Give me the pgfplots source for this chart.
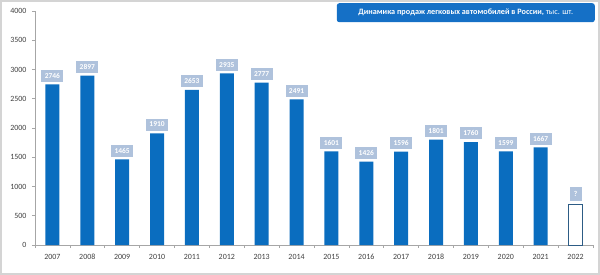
\documentclass[border=0pt]{standalone}
\usepackage{pgfplots}
\pgfplotsset{compat=1.18}
\usepackage{pgfplotstable}
\usepackage{fontspec}
\setmainfont{Carlito}
\definecolor{barblue}{HTML}{0A6DBF}
\definecolor{titleblue}{HTML}{1570C6}
\definecolor{lblbox}{HTML}{AFC2DC}
\definecolor{axisgray}{HTML}{A6A6A6}
\definecolor{ticktext}{HTML}{404040}
\definecolor{framegray}{HTML}{D4D4D4}
\definecolor{hollowedge}{HTML}{2D5C85}
\pgfplotstableread{
x val lbl
0 2746 2746
1 2897 2897
2 1465 1465
3 1910 1910
4 2653 2653
5 2935 2935
6 2777 2777
7 2491 2491
8 1601 1601
9 1426 1426
10 1596 1596
11 1801 1801
12 1760 1760
13 1599 1599
14 1667 1667
}\sales
\pgfplotstableread{
x val lbl
15 700 ?
}\future
\begin{document}
\begin{tikzpicture}[x=1bp,y=1bp]
\begin{axis}[
  name=ax,
  scale only axis,
  width=558bp, height=234bp,
  xmin=-0.5, xmax=15.5,
  ymin=0, ymax=4000,
  ytick={0,500,...,4000},
  xtick={0,...,15},
  xticklabels={2007,2008,2009,2010,2011,2012,2013,2014,2015,2016,2017,2018,2019,2020,2021,2022},
  minor xtick={-0.5,0.5,...,15.5},
  axis x line*=bottom,
  axis y line*=left,
  axis line style={axisgray, line width=0.6pt},
  major x tick style={draw=none},
  minor x tick style={axisgray, line width=0.6pt},
  major y tick style={axisgray, line width=0.6pt},
  tick align=outside,
  major tick length=3bp,
  minor tick length=3bp,
  tick label style={font=\fontsize{8}{9}\selectfont, text=ticktext},
  /pgf/number format/assume math mode=true,
  /pgf/number format/set thousands separator={},
  yticklabel style={xshift=-2bp},
  xticklabel style={yshift=-3bp},
  ybar, bar width=14bp, bar shift=0pt,
  clip=false,
  nodes near coords,
  point meta=explicit symbolic,
  every node near coord/.append style={font=\bfseries\fontsize{7.5}{8}\selectfont, text=white, fill=lblbox, inner sep=1.5bp, minimum width=22bp, minimum height=12bp, anchor=south, yshift=2.5bp},
]
\addplot[fill=barblue, draw=none] table[x=x, y=val, meta=lbl] {\sales};
\addplot[fill=white, draw=hollowedge, line width=0.8pt, every node near coord/.append style={minimum width=12bp, minimum height=14bp}] table[x=x, y=val, meta=lbl] {\future};
\end{axis}
\path[use as bounding box] ([shift={(-35bp,-30bp)}]ax.south west) rectangle ([shift={(565bp,245bp)}]ax.south west);
\draw[framegray, line width=2.5bp] ([shift={(-33.75bp,-28.75bp)}]ax.south west) rectangle ([shift={(563.75bp,243.75bp)}]ax.south west);
\node[fill=titleblue, rounded corners=2.5bp, text=white, anchor=north east, minimum width=258bp, minimum height=19bp, inner sep=2bp, font=\fontsize{8.2}{9}\selectfont] at ([shift={(560bp,242bp)}]ax.south west) {\textbf{Динамика продаж легковых автомобилей в России,} тыс. шт.};
\end{tikzpicture}
\end{document}
